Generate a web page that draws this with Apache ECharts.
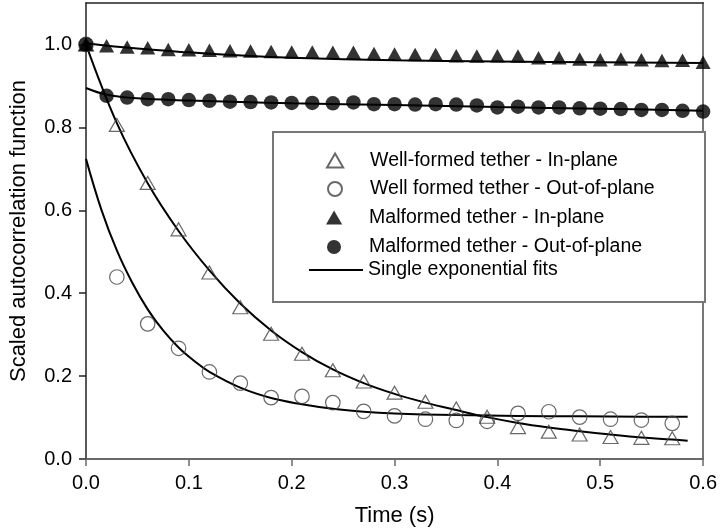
<!DOCTYPE html>
<html>
<head>
<meta charset="utf-8">
<script src="https://cdn.jsdelivr.net/npm/echarts@6/dist/echarts.min.js"></script>
<style>html,body{margin:0;padding:0;background:#fff}#c{width:720px;height:532px}</style>
</head>
<body>
<div id="c"></div>
<script>
// ---- data ----
const xTicks = [0, 0.1, 0.2, 0.3, 0.4, 0.5, 0.6];
const yTicks = [0, 0.2, 0.4, 0.6, 0.8, 1.0];

const malX = [0,0.02,0.04,0.06,0.08,0.10,0.12,0.14,0.16,0.18,0.20,0.22,0.24,0.26,0.28,0.30,0.32,0.34,0.36,0.38,0.40,0.42,0.44,0.46,0.48,0.50,0.52,0.54,0.56,0.58,0.60];
const malInPlane = [1.0,0.997,0.994,0.992,0.988,0.987,0.986,0.985,0.984,0.983,0.982,0.982,0.981,0.981,0.978,0.977,0.976,0.976,0.973,0.972,0.973,0.972,0.968,0.968,0.965,0.963,0.965,0.963,0.961,0.962,0.957];
const malOutPlane = [1.0,0.876,0.872,0.868,0.868,0.866,0.864,0.862,0.861,0.860,0.859,0.859,0.858,0.860,0.856,0.856,0.855,0.856,0.855,0.853,0.848,0.850,0.848,0.848,0.846,0.845,0.844,0.842,0.842,0.840,0.838];

const wellX = [0,0.03,0.06,0.09,0.12,0.15,0.18,0.21,0.24,0.27,0.30,0.33,0.36,0.39,0.42,0.45,0.48,0.51,0.54,0.57];
const wellInPlane = [1.0,0.806,0.666,0.554,0.450,0.366,0.302,0.254,0.214,0.187,0.160,0.138,0.122,0.102,0.077,0.066,0.059,0.053,0.051,0.050];
const wellOutPlane = [1.0,0.439,0.326,0.267,0.210,0.183,0.148,0.151,0.136,0.115,0.104,0.096,0.093,0.091,0.110,0.114,0.101,0.096,0.094,0.086];

const fitWellInX = [0,0.03,0.06,0.09,0.12,0.15,0.18,0.21,0.24,0.27,0.30,0.33,0.36,0.39,0.42,0.45,0.48,0.51,0.54,0.57,0.585];
const fitWellInY = [1.0,0.81,0.665,0.55,0.455,0.375,0.31,0.258,0.216,0.183,0.157,0.136,0.118,0.101,0.087,0.076,0.067,0.059,0.052,0.047,0.044];
const fitWellOutX = [0,0.015,0.03,0.045,0.06,0.075,0.09,0.105,0.12,0.15,0.18,0.21,0.24,0.27,0.30,0.36,0.42,0.48,0.54,0.585];
const fitWellOutY = [0.724,0.601,0.503,0.425,0.361,0.31,0.269,0.237,0.21,0.172,0.147,0.132,0.121,0.114,0.11,0.106,0.104,0.103,0.102,0.102];
const fitMalInX = [0,0.05,0.1,0.16,0.2,0.3,0.4,0.5,0.6];
const fitMalInY = [1.003,0.99,0.981,0.972,0.968,0.962,0.959,0.957,0.955];
const fitMalOutX = [0,0.02,0.05,0.1,0.15,0.2,0.3,0.4,0.5,0.6];
const fitMalOutY = [0.895,0.879,0.870,0.865,0.861,0.858,0.854,0.849,0.845,0.840];

const names = ['Well-formed tether - In-plane','Well formed tether - Out-of-plane','Malformed tether - In-plane','Malformed tether - Out-of-plane','Single exponential fits'];

// ---- build ----
const zip = (xs, ys) => xs.map((x, i) => [x, ys[i]]);
const FONT = "'Liberation Sans', Arial, sans-serif";
const triPath = 'path://M7.5,0 L15,13 L0,13 Z';
const linePath = 'path://M0,0 H54 V2 H0 Z';

const fitLine = (xs, ys) => ({
  type: 'line', name: names[4], data: zip(xs, ys), symbol: 'none', smooth: 0.4,
  lineStyle: { color: '#000', width: 2 }, itemStyle: { color: '#000' }, z: 2, silent: true
});

const openStyle = { color: 'rgba(0,0,0,0)', borderColor: '#444', borderWidth: 1.2 };

const series = [
  fitLine(fitWellInX, fitWellInY),
  fitLine(fitWellOutX, fitWellOutY),
  fitLine(fitMalInX, fitMalInY),
  fitLine(fitMalOutX, fitMalOutY),
  { type: 'scatter', name: names[0], data: zip(wellX, wellInPlane), symbol: 'triangle', symbolSize: [15, 13], itemStyle: openStyle, z: 3 },
  { type: 'scatter', name: names[1], data: zip(wellX, wellOutPlane), symbol: 'circle', symbolSize: 14.5, itemStyle: openStyle, z: 3 },
  { type: 'scatter', name: names[2], data: zip(malX, malInPlane), symbol: 'triangle', symbolSize: [15, 13.5], itemStyle: { color: '#000' }, z: 4 },
  { type: 'scatter', name: names[3], data: zip(malX, malOutPlane), symbol: 'circle', symbolSize: 14.5, itemStyle: { color: '#000' }, z: 5 }
];

// legend layout: [icon, left edge of drawn icon, item width, row centre]
const legendIcons = [triPath, 'circle', triPath, 'circle', linePath];
const legendLeft = [326, 327, 326, 327, 309];
const legendItemW = [60, 60, 60, 60, 54];
const legendRows = [160.5, 189, 217.5, 247, 270];
const legends = names.map((n, i) => ({
  data: [{ name: n, icon: legendIcons[i] }],
  left: legendLeft[i], top: legendRows[i] - 10, orient: 'vertical',
  itemWidth: legendItemW[i], itemHeight: 14, padding: 0, selectedMode: false, z: 6,
  textStyle: { fontSize: 19.5, color: '#000', fontFamily: FONT }
}));

const chart = echarts.init(document.getElementById('c'), null, { renderer: 'canvas' });
chart.setOption({
  animation: false,
  backgroundColor: '#fff',
  grid: { left: 76, right: 15, top: 3, bottom: 71 },
  graphic: [{
    type: 'rect', z: 1,
    shape: { x: 273, y: 132, width: 432, height: 170 },
    style: { fill: '#fff', stroke: '#777', lineWidth: 2 }
  }],
  legend: legends,
  xAxis: [{
    type: 'value', min: 0, max: 0.6, interval: 0.1,
    name: 'Time (s)', nameLocation: 'middle', nameGap: 46,
    nameTextStyle: { fontSize: 22, color: '#000', fontFamily: FONT },
    axisLine: { show: true, lineStyle: { color: '#6a6a6a', width: 2 } },
    axisTick: { show: true, inside: false, length: 7, lineStyle: { color: '#6a6a6a', width: 1.5 }, customValues: xTicks },
    axisLabel: { fontSize: 20, color: '#000', fontFamily: FONT, margin: 14, customValues: xTicks, formatter: v => v.toFixed(1) },
    splitLine: { show: false }
  }, {
    type: 'value', min: 0, max: 0.6, position: 'top',
    axisLine: { show: true, onZero: false, lineStyle: { color: '#222', width: 1.5 } },
    axisTick: { show: false }, axisLabel: { show: false }, splitLine: { show: false }
  }],
  yAxis: [{
    type: 'value', min: 0, max: 1.1, interval: 0.2,
    name: 'Scaled autocorrelation function', nameLocation: 'middle', nameGap: 56,
    nameTextStyle: { fontSize: 22, color: '#000', fontFamily: FONT },
    axisLine: { show: true, onZero: false, lineStyle: { color: '#222', width: 1.5 } },
    axisTick: { show: true, inside: false, length: 7, lineStyle: { color: '#222', width: 1.5 }, customValues: yTicks },
    axisLabel: { fontSize: 20, color: '#000', fontFamily: FONT, margin: 14, customValues: yTicks, formatter: v => v.toFixed(1) },
    splitLine: { show: false }
  }, {
    type: 'value', min: 0, max: 1.1, position: 'right',
    axisLine: { show: true, onZero: false, lineStyle: { color: '#777', width: 2 } },
    axisTick: { show: false }, axisLabel: { show: false }, splitLine: { show: false }
  }],
  series: series
});
</script>
</body>
</html>
